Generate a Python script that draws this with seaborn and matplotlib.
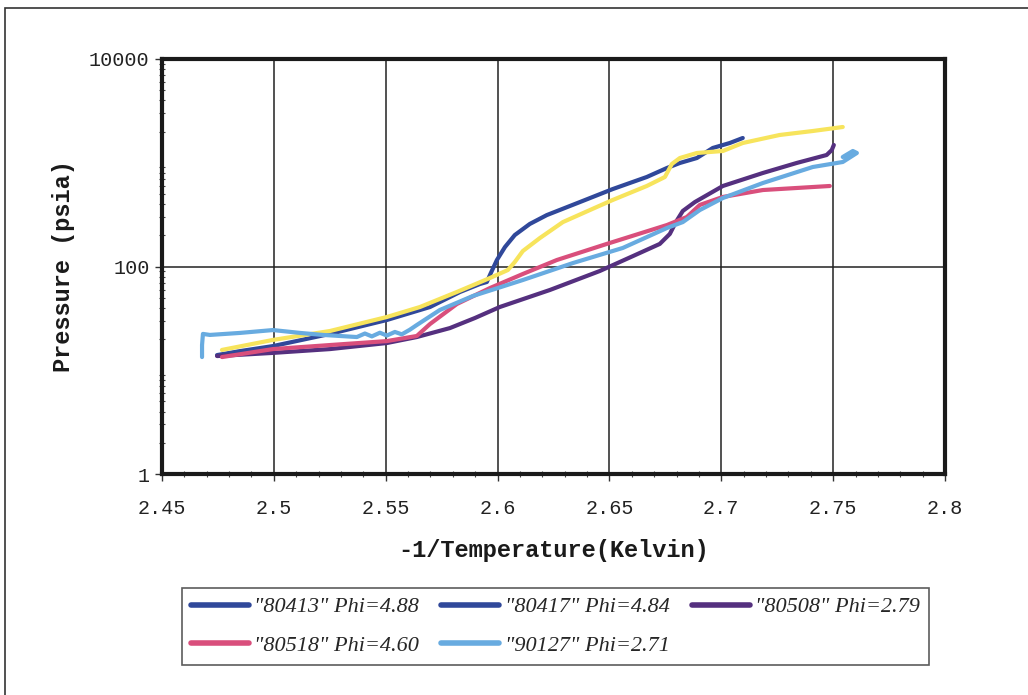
import numpy as np
import pandas as pd
import matplotlib
matplotlib.use("Agg")
import matplotlib.pyplot as plt
from matplotlib.lines import Line2D
from matplotlib.patches import Rectangle
from matplotlib.ticker import FixedLocator, FixedFormatter, MultipleLocator, LogLocator, NullFormatter
import seaborn as sns

# Vapour-pressure runs: inverse temperature vs pressure (psia)
x_80413 = [2.4746, 2.4849, 2.4996, 2.5251, 2.5505, 2.5698, 2.5832, 2.5921, 2.5952, 2.5970,
           2.5997, 2.6033, 2.6077, 2.6144, 2.6220, 2.6368, 2.6515, 2.6667, 2.6757, 2.6815,
           2.6891, 2.6962, 2.7038, 2.7096]
p_80413 = [14.0, 15.3, 17.1, 22.4, 30.5, 40.7, 56.8, 67.8, 70.9, 86.6,
           115.5, 154, 201, 257, 313, 418, 558, 729, 890, 995,
           1111, 1388, 1550, 1732]

x_80417 = [2.4768, 2.4996, 2.5251, 2.5505, 2.5653, 2.5818, 2.5966, 2.6046, 2.6077, 2.6113,
           2.6189, 2.6292, 2.6444, 2.6515, 2.6667, 2.6748, 2.6779, 2.6815, 2.6891, 2.7007,
           2.7096, 2.7261, 2.7409, 2.7543]
p_80417 = [15.7, 19.6, 23.9, 32.6, 40.7, 56.8, 77.5, 92.5, 110.5, 141,
           188, 268, 375, 438, 597, 729, 973, 1111, 1242, 1298,
           1550, 1852, 2023, 2211]

x_80508 = [2.4746, 2.4996, 2.5251, 2.5505, 2.5639, 2.5787, 2.5899, 2.6010, 2.6234, 2.6457,
           2.6605, 2.6725, 2.6770, 2.6797, 2.6828, 2.6882, 2.7007, 2.7186, 2.7337, 2.7471,
           2.7494, 2.7503]
p_80508 = [13.7, 14.7, 16.0, 18.3, 20.9, 25.5, 31.9, 40.7, 59.4, 90.5,
           126, 165, 206, 268, 343, 418, 597, 797, 995, 1188,
           1327, 1483]

x_80518 = [2.4768, 2.4996, 2.5251, 2.5505, 2.5639, 2.5698, 2.5818, 2.5966, 2.6113, 2.6265,
           2.6488, 2.6757, 2.6846, 2.6904, 2.7007, 2.7186, 2.7485]
p_80518 = [13.4, 16.0, 17.5, 19.1, 21.4, 27.9, 43.5, 62.0, 84.7, 115.5,
           165, 251, 300, 392, 468, 546, 597]

x_90127 = [2.4679, 2.4679, 2.4683, 2.4714, 2.4849, 2.4996, 2.5117, 2.5219, 2.5371, 2.5407,
           2.5438, 2.5474, 2.5505, 2.5541, 2.5572, 2.5608, 2.5639, 2.5742, 2.5890, 2.6113,
           2.6337, 2.6560, 2.6757, 2.6828, 2.6904, 2.7007, 2.7186, 2.7409, 2.7543, 2.7606,
           2.7588, 2.7543]
p_90127 = [13.4, 17.5, 22.4, 21.9, 22.9, 24.4, 22.9, 21.9, 20.9, 22.6,
           21.2, 23.0, 21.6, 23.4, 22.2, 24.6, 27.3, 38.1, 52.0, 74.1,
           108, 151, 235, 268, 350, 457, 638, 910, 1017, 1242,
           1298, 1136]

series_names = ['"80413" Phi=4.88', '"80417" Phi=4.84', '"80508" Phi=2.79',
                '"80518" Phi=4.60', '"90127" Phi=2.71']
line_colors = ["#30489a", "#f7e45c", "#55307f", "#d94f7c", "#68abe0"]
legend_colors = ["#30489a", "#30489a", "#55307f", "#d94f7c", "#68abe0"]

x_ticks = [2.45, 2.5, 2.55, 2.6, 2.65, 2.7, 2.75, 2.8]
x_tick_labels = ["2.45", "2.5", "2.55", "2.6", "2.65", "2.7", "2.75", "2.8"]
y_ticks = [1, 100, 10000]
y_tick_labels = ["1", "100", "10000"]

xs = [x_80413, x_80417, x_80508, x_80518, x_90127]
ps = [p_80413, p_80417, p_80508, p_80518, p_90127]
frames = []
for name, xv, pv in zip(series_names, xs, ps):
    frames.append(pd.DataFrame({"invT": xv, "P": pv, "run": name}))
df = pd.concat(frames, ignore_index=True)

sns.set_theme(style="white")
plt.rcParams["font.family"] = ["Liberation Mono", "DejaVu Sans"]

fig = plt.figure(figsize=(10.28, 6.95), dpi=100)
fig.patch.set_facecolor("white")
ax = fig.add_axes([162 / 1028, 1 - 474 / 695, (945 - 162) / 1028, (474 - 59) / 695])

sns.lineplot(data=df, x="invT", y="P", hue="run", units="run", estimator=None,
             sort=False, palette=dict(zip(series_names, line_colors)),
             linewidth=3.0, legend=False, ax=ax, zorder=3)

ax.set_yscale("log")
ax.set_xlim(2.45, 2.8)
ax.set_ylim(1, 10000)

ax.xaxis.set_major_locator(FixedLocator(x_ticks))
ax.xaxis.set_major_formatter(FixedFormatter(x_tick_labels))
ax.xaxis.set_minor_locator(MultipleLocator(0.01))
ax.yaxis.set_major_locator(FixedLocator(y_ticks))
ax.yaxis.set_major_formatter(FixedFormatter(y_tick_labels))
ax.yaxis.set_minor_locator(LogLocator(base=10, subs=np.arange(2, 10)))
ax.yaxis.set_minor_formatter(NullFormatter())

ax.grid(True, which="major", color="#222222", linewidth=1.1)
ax.grid(False, which="minor")
ax.tick_params(axis="both", which="major", direction="out", length=5, width=1,
               labelsize=14.5, color="#333333", labelcolor="#222222")
ax.tick_params(axis="x", which="major", pad=13)
ax.tick_params(axis="y", which="major", pad=4)
ax.tick_params(axis="both", which="minor", direction="inout", length=4, width=0.8,
               color="#444444")
ax.tick_params(axis="x", which="both", bottom=True)
ax.tick_params(axis="y", which="both", left=True)

for sp in ax.spines.values():
    sp.set_visible(True)
    sp.set_color("#1a1a1a")
    sp.set_linewidth(3)

ax.set_xlabel("-1/Temperature(Kelvin)", fontsize=17, fontweight="bold",
              color="#1a1a1a", labelpad=15)
ax.set_ylabel("Pressure (psia)", fontsize=17, fontweight="bold",
              color="#1a1a1a", labelpad=10)

# legend is filled row by row: reorder for matplotlib's column-major layout
order = [0, 3, 1, 4, 2]
handles = [Line2D([0], [0], color=legend_colors[i], linewidth=4) for i in order]
labels = [series_names[i] for i in order]
leg = fig.legend(handles, labels, loc="upper left",
                 bbox_to_anchor=(182 / 1028, 1 - 588 / 695), ncol=3,
                 borderaxespad=0, frameon=True, fancybox=False, edgecolor="#333333",
                 handlelength=2.6, handletextpad=0.25, columnspacing=1.0,
                 borderpad=0.4, labelspacing=0.8,
                 prop={"family": "Liberation Serif", "style": "italic", "size": 16})
leg.get_frame().set_linewidth(1.2)

# thin outer border of the page
fig.add_artist(Rectangle((5 / 1028, -0.05), 1.1, 1 - 8 / 695 + 0.05,
                         transform=fig.transFigure, fill=False,
                         edgecolor="#333333", linewidth=1.2))

fig.savefig("out.png", dpi=100, facecolor="white")
